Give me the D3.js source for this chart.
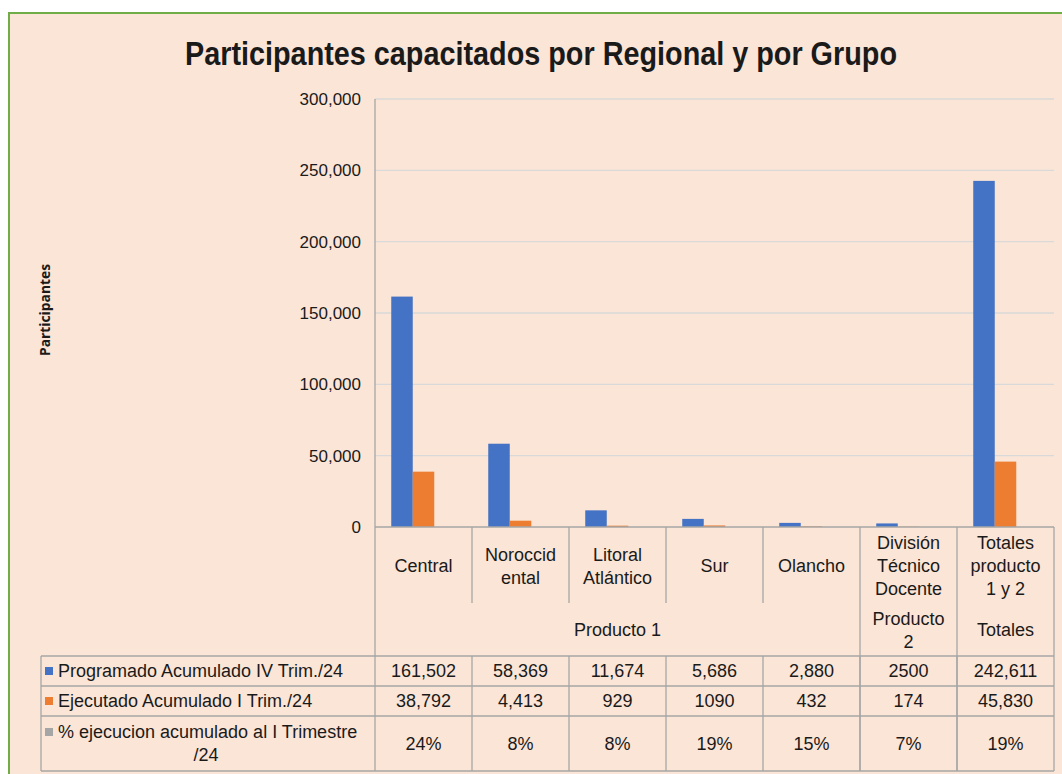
<!DOCTYPE html>
<html>
<head>
<meta charset="utf-8">
<script src="https://cdn.jsdelivr.net/npm/d3@7"></script>
<style>
  body { margin: 0; background: #fff; }
  text { font-family: "Liberation Sans", Arial, sans-serif; fill: #1a1a1a; }
</style>
</head>
<body>
<div id="chart"></div>
<script>
// Data
const categories = ["Central", "Noroccidental", "Litoral Atlántico", "Sur", "Olancho", "División Técnico Docente", "Totales producto 1 y 2"];
const categoryLines = [["Central"], ["Noroccid", "ental"], ["Litoral", "Atlántico"], ["Sur"], ["Olancho"], ["División", "Técnico", "Docente"], ["Totales", "producto", "1 y 2"]];
const groups = [
  { name: ["Producto 1"], from: 0, to: 4 },
  { name: ["Producto", "2"], from: 5, to: 5 },
  { name: ["Totales"], from: 6, to: 6 }
];
const seriesNames = ["Programado Acumulado IV Trim./24", "Ejecutado Acumulado I Trim./24", "% ejecucion acumulado al I Trimestre /24"];
const programado = [161502, 58369, 11674, 5686, 2880, 2500, 242611];
const ejecutado = [38792, 4413, 929, 1090, 432, 174, 45830];
const porcentaje = [0.24, 0.08, 0.08, 0.19, 0.15, 0.07, 0.19];
const tableText = [
  ["161,502", "58,369", "11,674", "5,686", "2,880", "2500", "242,611"],
  ["38,792", "4,413", "929", "1090", "432", "174", "45,830"],
  ["24%", "8%", "8%", "19%", "15%", "7%", "19%"]
];
const yTicks = [0, 50000, 100000, 150000, 200000, 250000, 300000];
const colors = ["#4472C4", "#ED7D31", "#A5A5A5"];

const W = 1062, H = 774;
const svg = d3.select("#chart").append("svg")
    .attr("width", W).attr("height", H);

// background + frame
svg.append("rect").attr("x", 8).attr("y", 12).attr("width", W - 8).attr("height", H - 12)
    .attr("fill", "#FBE5D6");
svg.append("path").attr("d", `M9,${H} V13 H${W}`)
    .attr("fill", "none").attr("stroke", "#70AD47").attr("stroke-width", 2);

// Title
svg.append("text")
    .attr("x", 541).attr("y", 65)
    .attr("text-anchor", "middle")
    .style("font-family", "'Liberation Sans Narrow', 'Liberation Sans', sans-serif")
    .style("font-weight", "bold")
    .style("font-size", "34px")
    .attr("textLength", 712).attr("lengthAdjust", "spacingAndGlyphs")
    .text("Participantes capacitados por Regional y por Grupo");

// Scales
const plotLeft = 375, plotRight = 1054, plotTop = 99, zero = 527;
const x = d3.scaleBand().domain(categories).range([plotLeft, plotRight]).padding(0);
const bw = x.bandwidth();
const x1 = d3.scaleBand().domain(d3.range(3)).range([bw * 0.1675, bw * 0.8325]).padding(0);
const y = d3.scaleLinear().domain([0, 300000]).range([zero, plotTop]);

// Gridlines
svg.append("g").selectAll("line").data(yTicks.filter(d => d > 0)).join("line")
    .attr("x1", plotLeft).attr("x2", plotRight)
    .attr("y1", d => y(d)).attr("y2", d => y(d))
    .attr("stroke", "#D9D9D9").attr("stroke-width", 1.3);

// Y axis
const yAxis = svg.append("g").attr("transform", `translate(${plotLeft},0)`)
    .call(d3.axisLeft(y).tickValues(yTicks).tickSize(0).tickPadding(14).tickFormat(d3.format(",")));
yAxis.select(".domain").remove();
yAxis.selectAll("text").style("font-size", "17px").style("font-family", "'Liberation Sans', Arial, sans-serif").attr("fill", "#1a1a1a");

svg.append("text")
    .attr("transform", "translate(50,310) rotate(-90)")
    .attr("text-anchor", "middle")
    .style("font-family", "'Open Sans', sans-serif")
    .style("font-weight", "bold").style("font-size", "14px")
    .attr("textLength", 92).attr("lengthAdjust", "spacingAndGlyphs")
    .text("Participantes");

// Bars
const series = [programado, ejecutado, porcentaje];
series.forEach((vals, si) => {
  svg.append("g").selectAll("rect").data(vals).join("rect")
      .attr("x", (d, i) => x(categories[i]) + x1(si))
      .attr("y", d => y(d))
      .attr("width", x1.bandwidth())
      .attr("height", d => zero - y(d))
      .attr("fill", colors[si]);
});

// Data table
const lineColor = "#A6A6A6";
const tLeft = 41, catBottom = 603;
const rowEdges = [656, 686, 716, 771];
const g = svg.append("g");

// plot left axis line + category frame
g.append("line").attr("x1", plotLeft).attr("x2", plotLeft).attr("y1", plotTop).attr("y2", rowEdges[3])
    .attr("stroke", lineColor).attr("stroke-width", 1.3);
g.append("line").attr("x1", plotLeft).attr("x2", plotRight).attr("y1", zero).attr("y2", zero)
    .attr("stroke", lineColor).attr("stroke-width", 1.3);
g.append("line").attr("x1", plotRight).attr("x2", plotRight).attr("y1", zero).attr("y2", rowEdges[3])
    .attr("stroke", lineColor).attr("stroke-width", 1.3);

// category separators
categories.slice(1).forEach((c, i) => {
  const isGroupEdge = groups.some(gr => gr.from === i + 1);
  g.append("line").attr("x1", x(c)).attr("x2", x(c))
      .attr("y1", zero).attr("y2", isGroupEdge ? rowEdges[3] : catBottom)
      .attr("stroke", lineColor).attr("stroke-width", 1.3);
});
// column separators in the value rows
categories.slice(1).forEach(c => {
  g.append("line").attr("x1", x(c)).attr("x2", x(c))
      .attr("y1", rowEdges[0]).attr("y2", rowEdges[3])
      .attr("stroke", lineColor).attr("stroke-width", 1.3);
});

// horizontal rules
rowEdges.forEach(r => {
  g.append("line").attr("x1", tLeft).attr("x2", plotRight).attr("y1", r).attr("y2", r)
      .attr("stroke", lineColor).attr("stroke-width", 1.3);
});
g.append("line").attr("x1", tLeft).attr("x2", tLeft).attr("y1", rowEdges[0]).attr("y2", rowEdges[3])
    .attr("stroke", lineColor).attr("stroke-width", 1.3);

const fs = "18px";
// category labels
categoryLines.forEach((lines, i) => {
  const cx = x(categories[i]) + bw / 2;
  const cy = 566 - (lines.length - 1) * 23 / 2;
  lines.forEach((l, j) => {
    g.append("text").attr("x", cx).attr("y", cy + j * 23).attr("dy", "0.35em")
        .attr("text-anchor", "middle").style("font-size", fs).text(l);
  });
});
// group labels
groups.forEach(gr => {
  const cx = (x(categories[gr.from]) + x(categories[gr.to]) + bw) / 2;
  const cy = 630 - (gr.name.length - 1) * 23 / 2;
  gr.name.forEach((l, j) => {
    g.append("text").attr("x", cx).attr("y", cy + j * 23).attr("dy", "0.35em")
        .attr("text-anchor", "middle").style("font-size", fs).text(l);
  });
});

// row labels with legend keys
const rowLabelLines = [["Programado Acumulado IV Trim./24"], ["Ejecutado Acumulado I Trim./24"], ["% ejecucion acumulado al I Trimestre", "/24"]];
rowLabelLines.forEach((lines, ri) => {
  const mid = (rowEdges[ri] + rowEdges[ri + 1]) / 2;
  const cy = mid - (lines.length - 1) * 23 / 2;
  g.append("rect").attr("x", 45).attr("y", cy - 4).attr("width", 8).attr("height", 8).attr("fill", colors[ri]);
  lines.forEach((l, j) => {
    g.append("text")
        .attr("x", j === 0 ? 58 : 206).attr("y", cy + j * 23).attr("dy", "0.35em")
        .attr("text-anchor", j === 0 ? "start" : "middle")
        .style("font-size", fs).text(l);
  });
  tableText[ri].forEach((v, ci) => {
    g.append("text").attr("x", x(categories[ci]) + bw / 2).attr("y", mid).attr("dy", "0.35em")
        .attr("text-anchor", "middle").style("font-size", fs).text(v);
  });
});
</script>
</body>
</html>
